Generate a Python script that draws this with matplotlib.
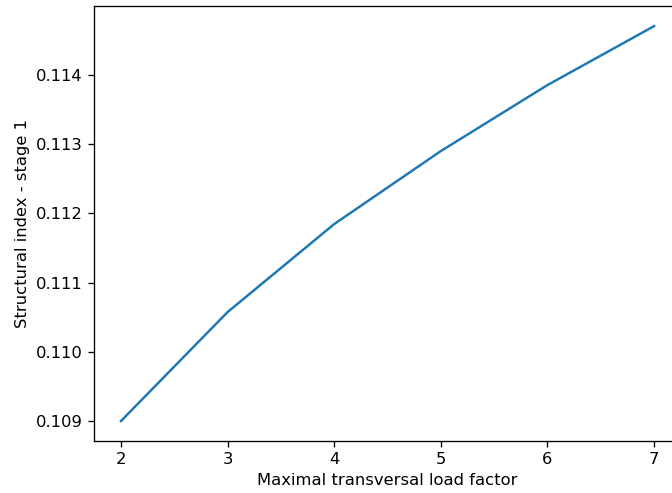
import matplotlib
matplotlib.use("Agg")
import matplotlib.pyplot as plt

load_factor = [2, 3, 4, 5, 6, 7]
structural_index = [0.10900, 0.110575, 0.111847, 0.112902, 0.113856, 0.114708]

# reference looks like a slightly enlarged default render, right edge cropped
s = 1.18
plt.rcParams['font.size'] = 10 * s
plt.rcParams['axes.linewidth'] = 0.8 * s
plt.rcParams['lines.linewidth'] = 1.5 * s
for a in ['xtick', 'ytick']:
    plt.rcParams[a + '.major.size'] = 3.5 * s
    plt.rcParams[a + '.major.width'] = 0.8 * s
    plt.rcParams[a + '.major.pad'] = 3.5 * s

fig = plt.figure(figsize=(6.72, 4.93), dpi=100)
ax = fig.add_axes([0.1404, 0.106, 0.8725, 0.881])
ax.plot(load_factor, structural_index)
ax.set_xlabel('Maximal transversal load factor')
ax.set_ylabel('Structural index - stage 1')
fig.savefig('out.png', dpi=100)
